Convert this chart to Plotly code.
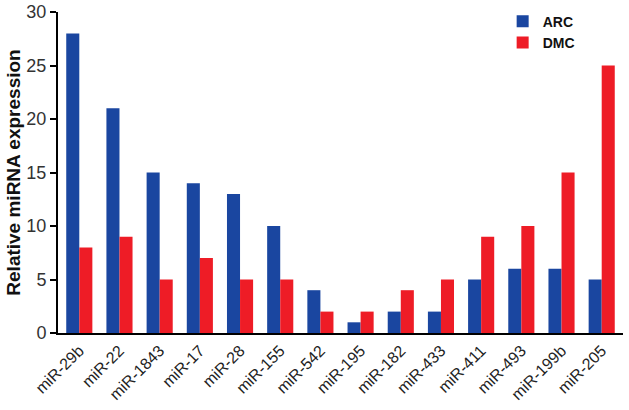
import plotly.graph_objects as go

categories = ["miR-29b", "miR-22", "miR-1843", "miR-17", "miR-28", "miR-155", "miR-542",
              "miR-195", "miR-182", "miR-433", "miR-411", "miR-493", "miR-199b", "miR-205"]
arc_values = [28, 21, 15, 14, 13, 10, 4, 1, 2, 2, 5, 6, 6, 5]
dmc_values = [8, 9, 5, 7, 5, 5, 2, 2, 4, 5, 9, 10, 15, 25]
y_ticks = [0, 5, 10, 15, 20, 25, 30]

fig = go.Figure()
fig.add_trace(go.Bar(x=categories, y=arc_values, name="<b>ARC</b>",
                     marker=dict(color="#1a46a0", line=dict(width=0))))
fig.add_trace(go.Bar(x=categories, y=dmc_values, name="<b>DMC</b>",
                     marker=dict(color="#ee1c26", line=dict(width=0))))

fig.update_layout(
    width=629, height=410,
    margin=dict(l=58, r=6, t=12, b=77, autoexpand=False),
    plot_bgcolor="white", paper_bgcolor="white",
    barmode="group", bargap=0.35, bargroupgap=0,
    font=dict(family="Liberation Sans, Arial, sans-serif", color="#222"),
    legend=dict(x=0.787, y=1.02, xanchor="left", yanchor="top",
                font=dict(size=14, color="#111", family="Liberation Sans, Arial, sans-serif"),
                itemwidth=30, tracegroupgap=0, bgcolor="rgba(0,0,0,0)"),
    xaxis=dict(range=[-0.53, 13.53], showline=True, linecolor="black", linewidth=2,
               ticks="", tickangle=-45, tickfont=dict(size=16, color="#222"),
               showgrid=False, zeroline=False, automargin=False),
    yaxis=dict(range=[0, 30], tickvals=y_ticks, showline=True, linecolor="black", linewidth=2,
               ticks="outside", ticklen=6, tickwidth=2, tickcolor="black",
               tickfont=dict(size=18, color="#333"), showgrid=False, zeroline=False,
               automargin=False,
               title=dict(text="<b>Relative miRNA expression</b>", font=dict(size=19, color="#111"),
                          standoff=1)),
)

fig.write_html("out.html", config={"displayModeBar": False},
               post_script="document.body.style.margin='0';")
